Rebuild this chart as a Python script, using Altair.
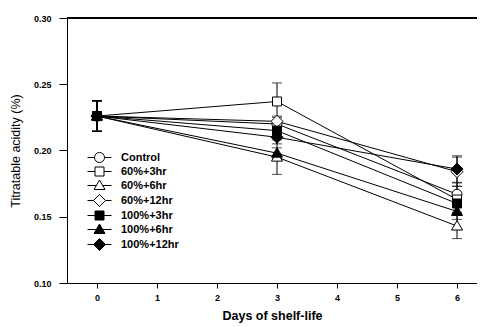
import altair as alt
import pandas as pd

series = ["Control", "60%+3hr", "60%+6hr", "60%+12hr", "100%+3hr", "100%+6hr", "100%+12hr"]
days = [0, 3, 6]
values = {
    "Control":   [0.226, 0.220, 0.167],
    "60%+3hr":   [0.226, 0.237, 0.163],
    "60%+6hr":   [0.226, 0.195, 0.143],
    "60%+12hr":  [0.226, 0.222, 0.184],
    "100%+3hr":  [0.226, 0.215, 0.160],
    "100%+6hr":  [0.226, 0.198, 0.154],
    "100%+12hr": [0.226, 0.210, 0.186],
}
errors = {
    "Control":   [0.0115, 0.005, 0.0085],
    "60%+3hr":   [0.0115, 0.014, 0.010],
    "60%+6hr":   [0.0115, 0.013, 0.0095],
    "60%+12hr":  [0.0115, 0.004, 0.011],
    "100%+3hr":  [0.0115, 0.005, 0.007],
    "100%+6hr":  [0.0115, 0.004, 0.006],
    "100%+12hr": [0.0115, 0.005, 0.010],
}
y_ticks = [0.10, 0.15, 0.20, 0.25, 0.30]
x_ticks = [0, 1, 2, 3, 4, 5, 6]

rows = []
for s in series:
    for d, v, e in zip(days, values[s], errors[s]):
        rows.append({"series": s, "day": d, "acid": v, "lo": v - e, "hi": v + e})
df = pd.DataFrame(rows)

W, H = 410, 265
FONT = "Liberation Sans"
YTITLE = "Titratable acidity (%)"

# marker shapes (unit paths) and legend shapes (marker + line stubs)
circ = "M1,0A1,1 0 1,1 -1,0A1,1 0 1,1 1,0Z"
sq = "M-0.9,-0.9H0.9V0.9H-0.9Z"
tri = "M0,-1.1L1.1,0.8H-1.1Z"
dia = "M0,-1.2L1.2,0L0,1.2L-1.2,0Z"
marker_paths = [circ, sq, tri, dia, sq, tri, dia]
stub = {circ: 1.0, sq: 0.9, tri: 0.64, dia: 1.2}
legend_paths = [f"M-2.4,0H-{stub[p]}M{stub[p]},0H2.4M" + p[1:] for p in marker_paths]
fills = ["white", "white", "white", "white", "black", "black", "black"]
strokes = ["black"] * len(series)

xs = alt.X("day:Q", scale=alt.Scale(domain=[-0.5, 6.333], nice=False, zero=False),
           axis=alt.Axis(values=x_ticks, format="d", title="Days of shelf-life", grid=False,
                         tickSize=5, labelPadding=5, titlePadding=7,
                         labelFont=FONT, labelFontSize=9, labelFontWeight="bold",
                         titleFont=FONT, titleFontSize=12.5, titleFontWeight="bold",
                         domainColor="black", tickColor="black", labelColor="black", titleColor="black"))
yaxis = alt.Axis(values=y_ticks, format=".2f", title=YTITLE, grid=False,
                 tickSize=8, labelPadding=8, titlePadding=11,
                 labelFont=FONT, labelFontSize=9, labelFontWeight="bold",
                 titleFont=FONT, titleFontSize=12.5, titleFontWeight="normal",
                 domainColor="black", tickColor="black", labelColor="black", titleColor="black")
ys = alt.Y("acid:Q", scale=alt.Scale(domain=[0.10, 0.30], nice=False, zero=False), axis=yaxis, title=YTITLE)

base = alt.Chart(df)

lines = base.mark_line(color="black", strokeWidth=1).encode(x=xs, y=ys, detail="series:N")

bars = base.mark_errorbar(ticks=True, size=10, thickness=1, color="black").encode(
    x="day:Q", y=alt.Y("lo:Q", title=YTITLE), y2="hi:Q", detail="series:N")

points = base.mark_point(opacity=1, stroke="black", strokeWidth=1, size=100, filled=False).encode(
    x="day:Q", y=alt.Y("acid:Q", title=YTITLE),
    shape=alt.Shape("series:N", scale=alt.Scale(domain=series, range=marker_paths), legend=None),
    fill=alt.Fill("series:N", scale=alt.Scale(domain=series, range=fills), legend=None),
)

legend = alt.Legend(title=None, orient="none", legendX=27, legendY=134, padding=0,
                    symbolSize=100, symbolStrokeWidth=1, symbolOpacity=1,
                    labelFont=FONT, labelFontSize=11, labelFontWeight="bold",
                    labelColor="black", labelOffset=16,
                    rowPadding=0, labelLimit=200)
legend_layer = base.mark_point(opacity=0, strokeWidth=1, size=100, filled=False).encode(
    x="day:Q", y=alt.Y("acid:Q", title=YTITLE),
    shape=alt.Shape("series:N", scale=alt.Scale(domain=series, range=legend_paths), legend=legend),
    fill=alt.Fill("series:N", scale=alt.Scale(domain=series, range=fills), legend=legend),
    stroke=alt.Stroke("series:N", scale=alt.Scale(domain=series, range=strokes), legend=legend),
)

top = alt.Chart(df).mark_rule(color="black", strokeWidth=1).encode(
    x=alt.value(0), x2=alt.value(W), y=alt.value(0))

chart = alt.layer(lines, bars, points, legend_layer, top).resolve_scale(
    shape="independent", fill="independent", stroke="independent"
).properties(
    width=W, height=H,
    autosize=alt.AutoSizeParams(type="none"),
    padding={"left": 59, "top": 10, "right": 0, "bottom": 44},
).configure_view(stroke=None).configure(background="white")

chart.save("out.html", embed_options={"renderer": "svg", "actions": False})
